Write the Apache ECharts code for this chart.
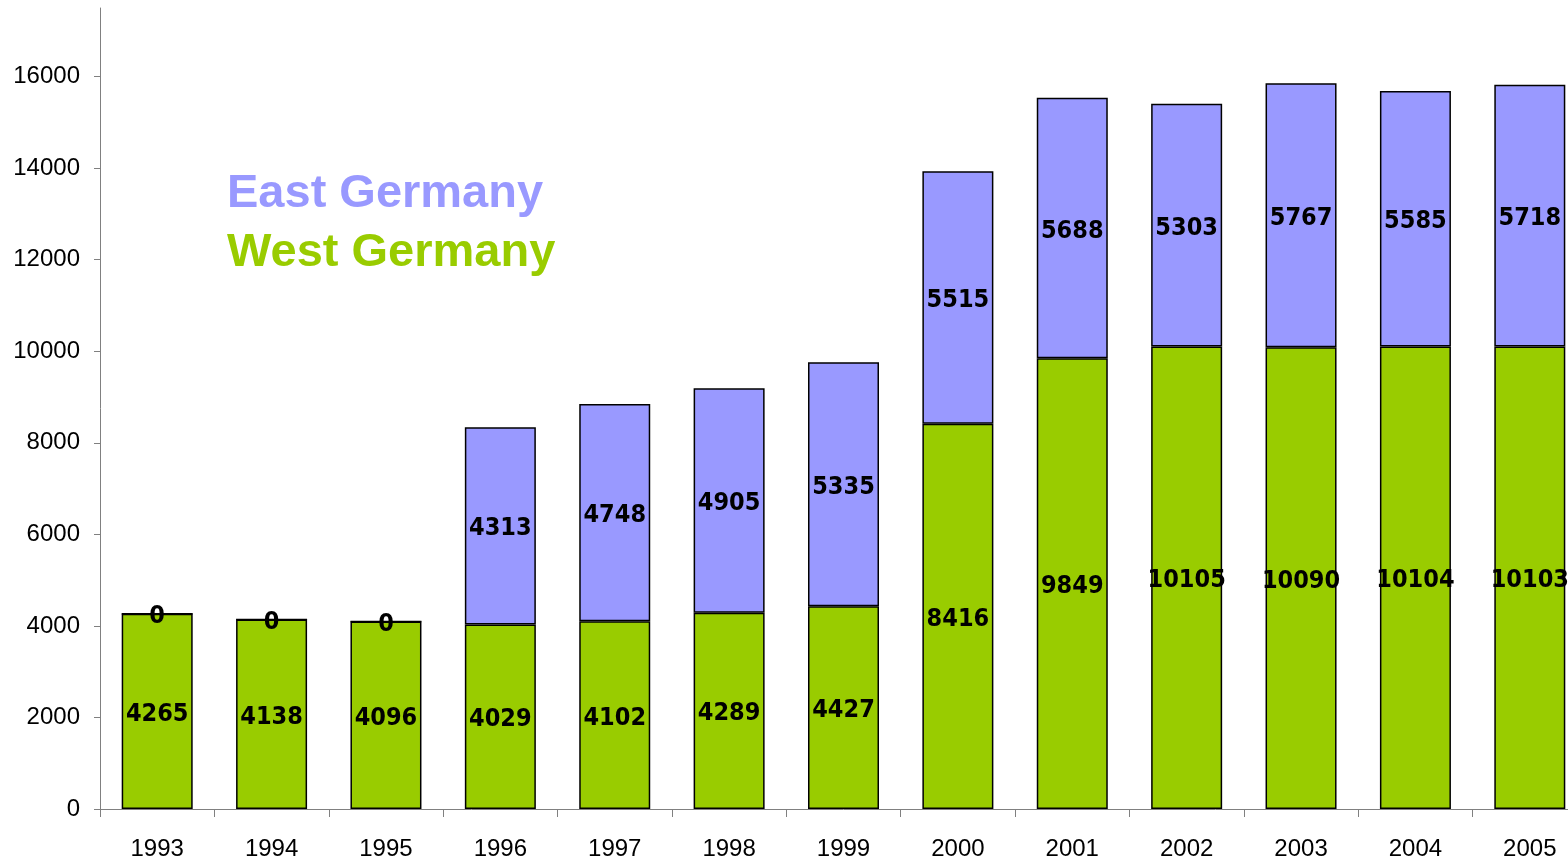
<!DOCTYPE html>
<html>
<head>
<meta charset="utf-8">
<script src="https://cdn.jsdelivr.net/npm/echarts@6/dist/echarts.min.js"></script>
<style>
html,body{margin:0;padding:0;background:#fff;overflow:hidden;width:1568px;height:864px;}
#chart{width:1587px;height:864px;}
</style>
</head>
<body>
<div id="chart"></div>
<script>
const years = ['1993','1994','1995','1996','1997','1998','1999','2000','2001','2002','2003','2004','2005'];
const westGermany = [4265,4138,4096,4029,4102,4289,4427,8416,9849,10105,10090,10104,10103];
const eastGermany = [0,0,0,4313,4748,4905,5335,5515,5688,5303,5767,5585,5718];

const chart = echarts.init(document.getElementById('chart'));
const labelStyle = {
  show: true,
  position: 'inside',
  offset: [0, 3],
  color: '#000',
  fontFamily: '"DejaVu Sans Condensed", "Liberation Sans Narrow", "Liberation Sans", Arial, sans-serif',
  fontWeight: 'bold',
  fontSize: 25
};
chart.setOption({
  animation: false,
  backgroundColor: '#fff',
  grid: { left: 100, right: 0, top: 8, bottom: 55, containLabel: false },
  legend: {
    orient: 'vertical',
    left: 217,
    top: 166,
    icon: 'none',
    itemWidth: 0,
    itemHeight: 10,
    itemGap: 12,
    selectedMode: false,
    textStyle: { fontFamily: '"Liberation Sans", Arial, sans-serif', fontWeight: 'bold', fontSize: 47 },
    data: [
      { name: 'East Germany', textStyle: { color: '#9999FF' } },
      { name: 'West Germany', textStyle: { color: '#99CC00' } }
    ]
  },
  xAxis: {
    type: 'category',
    data: years,
    axisLine: { lineStyle: { color: '#808080', width: 1 } },
    axisTick: { show: true, length: 8, lineStyle: { color: '#808080' } },
    axisLabel: { color: '#000', fontSize: 24, margin: 28, fontFamily: '"Liberation Sans", Arial, sans-serif' },
    splitLine: { show: false }
  },
  yAxis: {
    type: 'value',
    min: 0,
    max: 17500,
    interval: 2000,
    axisLine: { show: true, lineStyle: { color: '#808080', width: 1 } },
    axisTick: { show: true, length: 6, lineStyle: { color: '#808080' } },
    axisLabel: { color: '#000', fontSize: 24, margin: 20, showMaxLabel: false, formatter: v => String(v), fontFamily: '"Liberation Sans", Arial, sans-serif' },
    splitLine: { show: false }
  },
  series: [
    {
      name: 'West Germany',
      type: 'bar',
      stack: 'total',
      barWidth: 71,
      data: westGermany,
      itemStyle: { color: '#99CC00', borderColor: '#000', borderWidth: 1.5 },
      label: labelStyle
    },
    {
      name: 'East Germany',
      type: 'bar',
      stack: 'total',
      barWidth: 71,
      data: eastGermany,
      itemStyle: { color: '#9999FF', borderColor: '#000', borderWidth: 1.5 },
      label: labelStyle
    }
  ]
});
</script>
</body>
</html>
